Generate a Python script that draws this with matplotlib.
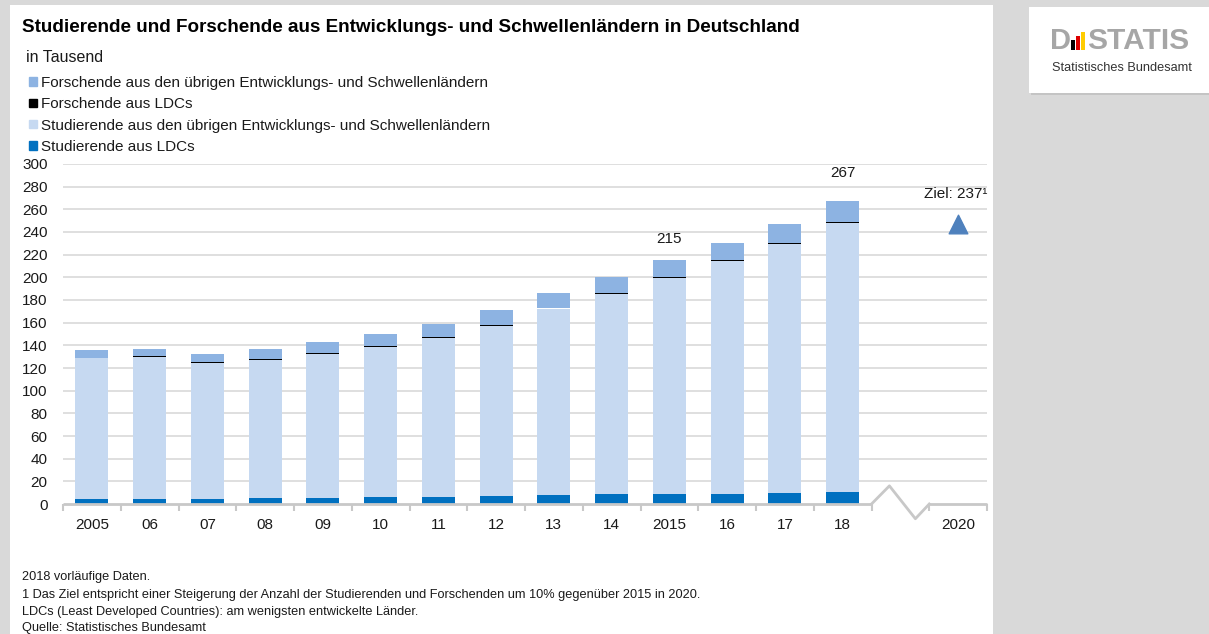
import numpy as np
import matplotlib.pyplot as plt
import matplotlib.transforms as mtransforms
from matplotlib.patches import Rectangle, Patch

plt.rcParams['font.family'] = ['Liberation Sans', 'DejaVu Sans']

# Werte in Tausend
years = ['2005', '06', '07', '08', '09', '10', '11', '12', '13', '14',
         '2015', '16', '17', '18']
stud_ldc = [4, 4.5, 4, 5, 5, 6, 6.5, 7, 8, 8.5, 9, 9, 10, 11]
stud_other = [124.5, 125, 120.5, 122.5, 127.5, 132.5, 140, 150.5, 164.5, 177, 190.5, 205.5, 219.5, 237]
forsch_ldc = [0.75, 0.75, 0.75, 0.75, 0.75, 0.75, 0.75, 0.75, 0.75, 0.75, 0.75, 0.75, 0.75, 0.75]
forsch_other = [6.75, 6.75, 6.75, 8.75, 9.75, 10.75, 11.75, 12.75, 12.75, 13.75, 14.75, 14.75, 16.75, 18.25]
totals = [136, 137, 132, 137, 143, 150, 159, 171, 186, 200, 215, 230, 247, 267]
labelled = {'2015': 215, '18': 267}
target_year = '2020'
target_value = 237

W, H = 1209, 634
BG = '#D9D9D9'
C_FO = '#8DB3E2'
C_FL = '#000000'
C_SO = '#C6D9F1'
C_SL = '#0070C0'
GRID = '#D9D9D9'
AXIS = '#C8C8C8'


def fx(x):
    return x / W


def fy(y):
    return 1 - y / H


fig = plt.figure(figsize=(W / 100, H / 100), dpi=100, facecolor=BG)

# white chart panel and logo panel (behind the axes)
fig.patches.append(Rectangle((fx(10), 0), fx(993) - fx(10), fy(5), transform=fig.transFigure,
                             facecolor='white', edgecolor='none', zorder=-2))
fig.patches.append(Rectangle((fx(1031), fy(95)), fx(W) - fx(1031), fy(9) - fy(95),
                             transform=fig.transFigure, facecolor='#C4C4C4', edgecolor='none', zorder=-2))
fig.patches.append(Rectangle((fx(1029), fy(93)), fx(W) - fx(1029), fy(7) - fy(93),
                             transform=fig.transFigure, facecolor='white', edgecolor='none', zorder=-1))

ax = fig.add_axes([fx(63), fy(504), fx(987) - fx(63), fy(164) - fy(504)])
ax.set_facecolor('none')

x = np.arange(len(years))
bw = 0.57
b1 = np.array(stud_ldc)
b2 = b1 + np.array(stud_other)
b3 = b2 + np.array(forsch_ldc)

ax.bar(x, stud_ldc, bw, color=C_SL, zorder=3)
ax.bar(x, stud_other, bw, bottom=b1, color=C_SO, zorder=3)
ax.bar(x, forsch_ldc, bw, bottom=b2, color=C_FL, zorder=3)
ax.bar(x, forsch_other, bw, bottom=b3, color=C_FO, zorder=3)

# labelled totals
for yr, val in labelled.items():
    i = years.index(yr)
    off = 10 if yr == '2015' else 15.5
    ax.annotate(str(val), xy=(i, totals[i]), xytext=(0, off), textcoords='offset points',
                ha='center', va='bottom', fontsize=11, color='#1A1A1A')

# target for 2020
tx = len(years) + 1
shift = mtransforms.ScaledTranslation(0, 8 / 72, fig.dpi_scale_trans)
ax.scatter([tx], [target_value], marker='^', s=180, color='#4F81BD', zorder=4,
           transform=ax.transData + shift, clip_on=False)
ax.annotate('Ziel: %d\u00b9' % target_value, xy=(tx + 0.5, target_value), xytext=(0, 30),
            textcoords='offset points', ha='right', va='center', fontsize=11, color='#1A1A1A')

ax.set_xlim(-0.5, len(years) + 1.5)
ax.set_ylim(0, 300)

ax.set_yticks(np.arange(0, 301, 20))
ax.tick_params(axis='y', length=0, pad=11, labelsize=11, labelcolor='#1A1A1A')
ax.yaxis.grid(True, color=GRID, lw=1.2)
ax.yaxis.get_gridlines()[0].set_visible(False)
ax.set_axisbelow(True)

ax.set_xticks(list(x) + [tx])
ax.set_xticklabels(years + [target_year])
ax.set_xticks(np.arange(-0.5, len(years) + 2, 1.0), minor=True)
ax.tick_params(axis='x', which='major', length=0, pad=10, labelsize=11, labelcolor='#1A1A1A')
ax.tick_params(axis='x', which='minor', length=5, width=1.5, color=AXIS, direction='out')

for s in ax.spines.values():
    s.set_visible(False)

# x axis line with a break before 2020
b0 = len(years) - 0.5
ax.plot([-0.5, b0], [0, 0], color=AXIS, lw=2, clip_on=False, zorder=5, solid_capstyle='butt')
ax.plot([b0, b0 + 0.31, b0 + 0.76, b0 + 1.0], [0, 16, -13, 0], color=AXIS, lw=2,
        clip_on=False, zorder=5)
ax.plot([b0 + 1.0, len(years) + 1.5], [0, 0], color=AXIS, lw=2, clip_on=False, zorder=5,
        solid_capstyle='butt')

# titles
fig.text(fx(22), fy(28), 'Studierende und Forschende aus Entwicklungs- und Schwellenländern in Deutschland',
         fontsize=13.6, fontweight='bold', va='center', ha='left', color='#000000')
fig.text(fx(26), fy(57), 'in Tausend', fontsize=11.5, va='center', ha='left', color='#1A1A1A')

handles = [Patch(color=C_FO), Patch(color=C_FL), Patch(color=C_SO), Patch(color=C_SL)]
labels = ['Forschende aus den übrigen Entwicklungs- und Schwellenländern',
          'Forschende aus LDCs',
          'Studierende aus den übrigen Entwicklungs- und Schwellenländern',
          'Studierende aus LDCs']
fig.legend(handles, labels, loc='upper left', bbox_to_anchor=(fx(29), fy(76)), frameon=False,
           fontsize=11, handlelength=0.5, handleheight=0.45, handletextpad=0.3,
           labelspacing=0.48, borderpad=0, borderaxespad=0, labelcolor='#1A1A1A')

notes = ['2018 vorläufige Daten.',
         '1 Das Ziel entspricht einer Steigerung der Anzahl der Studierenden und Forschenden um 10% gegenüber 2015 in 2020.',
         'LDCs (Least Developed Countries): am wenigsten entwickelte Länder.',
         'Quelle: Statistisches Bundesamt']
for yy, t in zip([577, 595, 612, 628], notes):
    fig.text(fx(22), fy(yy), t, fontsize=9.2, va='center', ha='left', color='#1A1A1A')

# logo
fig.text(fx(1050), fy(41), 'D', fontsize=21, fontweight='bold', color='#A6A6A6', va='center', ha='left')
for x0, y0, c in [(1071, 40, '#000000'), (1076, 36, '#DD0000'), (1081, 32, '#FFCC00')]:
    fig.patches.append(Rectangle((fx(x0), fy(50)), fx(4), fy(y0) - fy(50), transform=fig.transFigure,
                                 facecolor=c, edgecolor='none', zorder=2))
fig.text(fx(1087), fy(41), 'STATIS', fontsize=21.5, fontweight='bold', color='#A6A6A6', va='center', ha='left')
fig.text(fx(1052), fy(68), 'Statistisches Bundesamt', fontsize=9.2, color='#333333', va='center', ha='left')

fig.savefig('out.png', dpi=100, facecolor=BG)
